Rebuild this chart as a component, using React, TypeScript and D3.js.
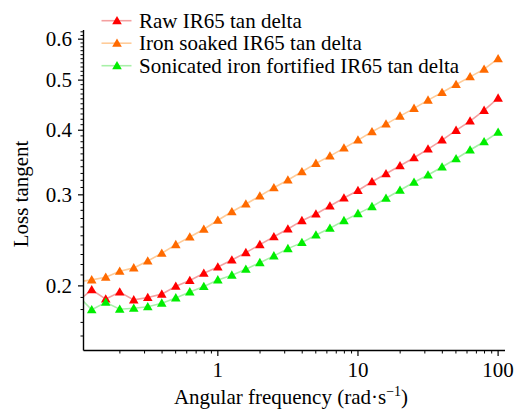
import React from 'react';
import * as d3 from 'd3';

// angular frequency (rad/s), 10 points per decade; first point lies left of the axis and is clipped
const freq = [
  0.1, 0.1259, 0.1585, 0.1995, 0.2512, 0.3162, 0.3981, 0.5012, 0.631, 0.7943,
  1, 1.259, 1.585, 1.995, 2.512, 3.162, 3.981, 5.012, 6.31, 7.943,
  10, 12.59, 15.85, 19.95, 25.12, 31.62, 39.81, 50.12, 63.1, 79.43, 100,
];

const rawTan = [
  0.1867, 0.1965, 0.1886, 0.1946, 0.1879, 0.1899, 0.1928, 0.1997, 0.2048, 0.2116,
  0.2176, 0.2245, 0.2319, 0.2403, 0.249, 0.2577, 0.2674, 0.2755, 0.2855, 0.2958,
  0.3058, 0.318, 0.3295, 0.3415, 0.3539, 0.3678, 0.3828, 0.3997, 0.4166, 0.4369, 0.4614,
];

const soakedTan = [
  0.2036, 0.2054, 0.2079, 0.2135, 0.2167, 0.2235, 0.2313, 0.2403, 0.2487, 0.2574,
  0.2679, 0.2783, 0.288, 0.2984, 0.3097, 0.3204, 0.3325, 0.3451, 0.3565, 0.3694,
  0.3828, 0.3972, 0.4111, 0.4259, 0.4408, 0.4573, 0.4733, 0.4904, 0.5073, 0.5249, 0.55,
];

const sonicTan = [
  0.1916, 0.1798, 0.1859, 0.1803, 0.1811, 0.1822, 0.1852, 0.1896, 0.1947, 0.1994,
  0.2054, 0.2098, 0.2154, 0.2218, 0.2286, 0.2361, 0.2425, 0.2509, 0.2585, 0.2674,
  0.2759, 0.2846, 0.2954, 0.3061, 0.3172, 0.3276, 0.3395, 0.3523, 0.3662, 0.38, 0.3962,
];

const seriesNames = [
  'Raw IR65 tan delta',
  'Iron soaked IR65 tan delta',
  'Sonicated iron fortified IR65 tan delta',
];

const xMajor = [1, 10, 100];
const xMajorLabels = ['1', '10', '100'];
const yMajor = [0.2, 0.3, 0.4, 0.5, 0.6];
const yMajorLabels = ['0.2', '0.3', '0.4', '0.5', '0.6'];

const FONT = "'Liberation Serif', 'Times New Roman', serif";
const txt = { fontFamily: FONT, fontSize: 21 };

const W = 515;
const H = 411;
const left = 83.5;
const right = 505;
const top = 30;
const bottom = 350.5;

const series = [
  { name: seriesNames[0], values: rawTan, line: '#f4a0a0', marker: '#ff0000' },
  { name: seriesNames[1], values: soakedTan, line: '#ffcc99', marker: '#ff6a00' },
  { name: seriesNames[2], values: sonicTan, line: '#a8f0a8', marker: '#00ee00' },
];

const tri = (cx: number, cy: number) =>
  `M${cx},${cy - 4.8}L${cx + 4.8},${cy + 3.5}L${cx - 4.8},${cy + 3.5}Z`;

export default function App() {
  const x = d3.scaleLog().domain([0.11, 112]).range([left, right]);
  const y = d3.scaleLog().domain([0.15, 0.625]).range([bottom, top]);

  const xMinor: number[] = [];
  [0.1, 1, 10].forEach((dec) => {
    for (let m = 2; m <= 9; m++) xMinor.push(dec * m);
  });
  const yMinor = d3
    .range(16, 63)
    .map((v) => v / 100)
    .filter((v) => !yMajor.some((m) => Math.abs(m - v) < 1e-6));

  const line = d3
    .line<number>()
    .x((_, i) => x(freq[i]))
    .y((d) => y(d));

  return (
    <svg
      width={W}
      height={H}
      style={{ position: 'absolute', left: 0, top: 0, background: '#fff' }}
    >
      <defs>
        <clipPath id="plot">
          <rect x={left} y={0} width={right - left + 10} height={bottom} />
        </clipPath>
      </defs>

      <g clipPath="url(#plot)">
        {series.map((s) => (
          <path key={s.name} d={line(s.values) || ''} fill="none" stroke={s.line} strokeWidth={1.6} />
        ))}
        {series.map((s) =>
          s.values.map((v, i) =>
            freq[i] < 0.11 ? null : (
              <path key={s.name + i} d={tri(x(freq[i]), y(v))} fill={s.marker} />
            )
          )
        )}
      </g>

      {/* x axis */}
      <line x1={left} x2={right} y1={bottom} y2={bottom} stroke="#000" strokeWidth={1.4} />
      {xMinor.map((t) => (
        <line key={'xm' + t} x1={x(t)} x2={x(t)} y1={bottom} y2={bottom + 3} stroke="#000" strokeWidth={1} />
      ))}
      {xMajor.map((t, i) => (
        <g key={'xM' + t}>
          <line x1={x(t)} x2={x(t)} y1={bottom} y2={bottom + 5.5} stroke="#000" strokeWidth={1.2} />
          <text x={x(t)} y={377} textAnchor="middle" style={txt}>
            {xMajorLabels[i]}
          </text>
        </g>
      ))}

      {/* y axis */}
      <line x1={left} x2={left} y1={top} y2={bottom} stroke="#000" strokeWidth={1.4} />
      {yMinor.map((t) => (
        <line key={'ym' + t} x1={left - 3} x2={left} y1={y(t)} y2={y(t)} stroke="#000" strokeWidth={1} />
      ))}
      {yMajor.map((t, i) => (
        <g key={'yM' + t}>
          <line x1={left - 5.5} x2={left} y1={y(t)} y2={y(t)} stroke="#000" strokeWidth={1.2} />
          <text x={72} y={y(t) + 7} textAnchor="end" style={txt}>
            {yMajorLabels[i]}
          </text>
        </g>
      ))}

      {/* axis titles */}
      <text x={291} y={404} textAnchor="middle" style={txt}>
        Angular frequency (rad·s
        <tspan dy={-8} style={{ fontSize: 14 }}>−1</tspan>
        <tspan dy={8}>)</tspan>
      </text>
      <text transform="translate(28,194) rotate(-90)" textAnchor="middle" style={txt}>
        Loss tangent
      </text>

      {/* legend */}
      {series.map((s, i) => {
        const cy = 20.7 + i * 22.5;
        return (
          <g key={'lg' + i}>
            <line x1={101.5} x2={131.5} y1={cy} y2={cy} stroke={s.line} strokeWidth={1.6} />
            <path d={tri(117, cy)} fill={s.marker} />
            <text x={139} y={cy + 7} style={txt}>
              {s.name}
            </text>
          </g>
        );
      })}
    </svg>
  );
}
